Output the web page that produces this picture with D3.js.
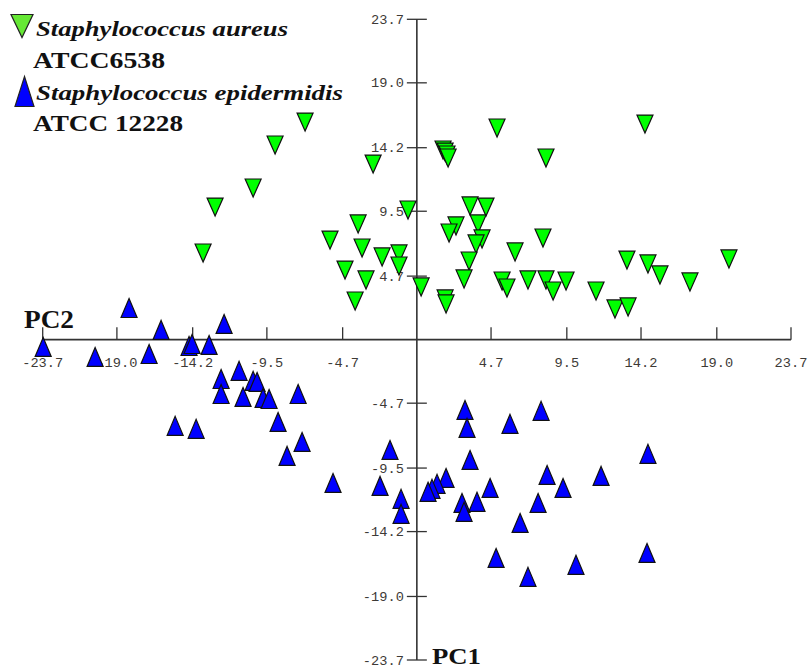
<!DOCTYPE html>
<html>
<head>
<meta charset="utf-8">
<script src="https://cdn.jsdelivr.net/npm/d3@7"></script>
<style>
  html, body { margin: 0; padding: 0; background: #fff; }
  svg { display: block; }
</style>
</head>
<body>
<svg id="chart" width="809" height="668"></svg>
<script>
// PCA score plot: PC1 (vertical) vs PC2 (horizontal)
const tickValues = [-23.7, -19.0, -14.2, -9.5, -4.7, 4.7, 9.5, 14.2, 19.0, 23.7];
const tickLabels = ["-23.7", "-19.0", "-14.2", "-9.5", "-4.7", "4.7", "9.5", "14.2", "19.0", "23.7"];

const seriesNames = ["Staphylococcus aureus", "Staphylococcus epidermidis"];
const seriesStrains = ["ATCC6538", "ATCC 12228"];

// S. aureus ATCC6538 scores
const aureusX = [-7.08, -8.98, -2.77, -10.37, -12.78, -0.56, -3.72, -5.50, -13.54, -3.47,
  -2.20, -1.13, -1.13, -4.55, -3.22, -3.91, 0.27, 5.08, 1.66, 1.79,
  1.91, 1.98, 8.18, 3.37, 4.38, 2.48, 2.04, 3.88, 4.13, 3.75,
  3.31, 2.99, 6.22, 7.99, 5.40, 5.71, 7.04, 8.18, 8.63, 9.45,
  11.35, 1.79, 1.85, 14.45, 13.31, 14.64, 15.40, 17.30, 19.77, 12.55, 13.38];
const aureusY = [16.10, 14.40, 12.99, 11.22, 9.81, 9.59, 8.56, 7.37, 6.41, 6.78,
  6.12, 6.34, 5.45, 5.15, 4.42, 2.86, 3.90, 15.66, 14.03, 13.88,
  13.66, 13.44, 13.44, 9.89, 9.81, 8.41, 7.89, 8.56, 7.45, 7.08,
  5.82, 4.49, 6.49, 7.52, 4.34, 3.82, 4.42, 4.42, 3.60, 4.34,
  3.60, 3.01, 2.64, 15.95, 5.89, 5.60, 4.79, 4.27, 5.97, 2.27, 2.42];

// S. epidermidis ATCC 12228 scores
const epiX = [-18.23, -16.20, -12.21, -23.67, -20.38, -16.96, -14.43, -14.24, -13.16, -12.40,
  -12.40, -11.26, -10.37, -10.12, -11.01, -9.74, -9.36, -7.52, -8.79, -15.31,
  -13.98, -7.27, -8.22, -5.31, -1.70, -2.33, -1.00, -1.00, 1.85, 1.28,
  0.96, 0.71, 3.05, 3.18, 3.37, 5.90, 2.86, 2.99, 3.81, 4.64,
  5.02, 7.87, 14.64, 8.25, 9.26, 11.67, 7.68, 6.54, 7.04, 10.08, 14.58];
const epiY = [2.34, 0.72, 1.16, -0.54, -1.28, -1.06, -0.47, -0.32, -0.39, -2.91,
  -4.02, -2.31, -3.05, -3.13, -4.24, -4.31, -4.39, -4.02, -6.09, -6.38,
  -6.60, -7.57, -8.60, -10.60, -8.16, -10.82, -11.78, -12.89, -10.23, -10.67,
  -11.04, -11.26, -5.20, -6.53, -8.90, -6.23, -12.08, -12.74, -12.00, -10.97,
  -16.15, -5.27, -8.45, -10.01, -10.97, -10.08, -12.08, -13.56, -17.55, -16.66, -15.78];

const svg = d3.select("#chart");

const x = d3.scaleLinear().domain([-23.7, 23.7]).range([42.7, 791]);
const y = d3.scaleLinear().domain([-23.7, 23.7]).range([660, 19.3]);

const axisColor = "#333";
const labelColor = "#3d3a36";
const monoFont = "'Liberation Mono', 'DejaVu Sans Mono', monospace";
const serif = "'Liberation Serif', 'Times New Roman', serif";

// horizontal axis (PC2)
const gx = svg.append("g").attr("transform", `translate(0,${y(0)})`);
gx.append("line")
  .attr("x1", x(-23.7)).attr("x2", x(23.7))
  .attr("stroke", axisColor).attr("stroke-width", 1.6);
gx.selectAll("line.tick").data(tickValues).join("line")
  .attr("class", "tick")
  .attr("x1", d => x(d)).attr("x2", d => x(d))
  .attr("y1", -12.5).attr("y2", 0)
  .attr("stroke", axisColor).attr("stroke-width", 1.3);
gx.selectAll("text").data(tickValues).join("text")
  .attr("x", d => x(d)).attr("y", 27)
  .attr("text-anchor", "middle")
  .attr("font-family", monoFont).attr("font-size", 13)
  .attr("fill", labelColor)
  .attr("textLength", (d, i) => tickLabels[i].length * 8.2)
  .attr("lengthAdjust", "spacingAndGlyphs")
  .text((d, i) => tickLabels[i]);

// vertical axis (PC1)
const gy = svg.append("g").attr("transform", `translate(${x(0)},0)`);
gy.append("line")
  .attr("y1", y(23.7)).attr("y2", y(-23.7))
  .attr("stroke", axisColor).attr("stroke-width", 1.6);
gy.selectAll("line.tick").data(tickValues).join("line")
  .attr("class", "tick")
  .attr("y1", d => y(d)).attr("y2", d => y(d))
  .attr("x1", -10).attr("x2", 10)
  .attr("stroke", axisColor).attr("stroke-width", 1.3);
gy.selectAll("text").data(tickValues).join("text")
  .attr("x", -13).attr("y", d => y(d) + 4.5)
  .attr("text-anchor", "end")
  .attr("font-family", monoFont).attr("font-size", 13)
  .attr("fill", labelColor)
  .attr("textLength", (d, i) => tickLabels[i].length * 8.2)
  .attr("lengthAdjust", "spacingAndGlyphs")
  .text((d, i) => tickLabels[i]);

// axis names
svg.append("text")
  .attr("x", 24).attr("y", 328)
  .attr("font-family", serif).attr("font-weight", "bold").attr("font-size", 25)
  .attr("fill", "#111")
  .attr("textLength", 50).attr("lengthAdjust", "spacingAndGlyphs")
  .text("PC2");
svg.append("text")
  .attr("x", 432).attr("y", 664)
  .attr("font-family", serif).attr("font-weight", "bold").attr("font-size", 23)
  .attr("fill", "#111")
  .attr("textLength", 49).attr("lengthAdjust", "spacingAndGlyphs")
  .text("PC1");

// marker shapes centred on their bounding box
const downTri = (w, h) => `M${-w / 2},${-h / 2}L${w / 2},${-h / 2}L0,${h / 2}Z`;
const upTri = (w, h) => `M0,${-h / 2}L${w / 2},${h / 2}L${-w / 2},${h / 2}Z`;

const aureus = aureusX.map((v, i) => ({ x: v, y: aureusY[i] }));
const epi = epiX.map((v, i) => ({ x: v, y: epiY[i] }));

svg.append("g").selectAll("path").data(epi).join("path")
  .attr("d", upTri(16, 19))
  .attr("transform", d => `translate(${x(d.x)},${y(d.y)})`)
  .attr("fill", "#0000ff").attr("stroke", "#111").attr("stroke-width", 1.2)
  .attr("stroke-linejoin", "miter");

svg.append("g").selectAll("path").data(aureus).join("path")
  .attr("d", downTri(16, 18))
  .attr("transform", d => `translate(${x(d.x)},${y(d.y)})`)
  .attr("fill", "#00ff00").attr("stroke", "#111").attr("stroke-width", 1.2)
  .attr("stroke-linejoin", "miter");

// legend
const legend = svg.append("g");
legend.append("path")
  .attr("d", downTri(22, 23))
  .attr("transform", "translate(22,26)")
  .attr("fill", "#66e835").attr("stroke", "#222").attr("stroke-width", 1.2);
legend.append("path")
  .attr("d", upTri(19, 30))
  .attr("transform", "translate(24.5,91.5)")
  .attr("fill", "#0000ff").attr("stroke", "#222").attr("stroke-width", 1.2);

const nameY = [35.5, 100];
const strainY = [68.3, 130.5];
const nameLen = [252, 307];
const strainLen = [132, 150];
seriesNames.forEach((n, i) => {
  legend.append("text")
    .attr("x", 36).attr("y", nameY[i])
    .attr("font-family", serif).attr("font-style", "italic").attr("font-weight", "bold")
    .attr("font-size", 22).attr("fill", "#111")
    .attr("textLength", nameLen[i]).attr("lengthAdjust", "spacingAndGlyphs")
    .text(n);
  legend.append("text")
    .attr("x", 33).attr("y", strainY[i])
    .attr("font-family", serif).attr("font-weight", "bold")
    .attr("font-size", 23).attr("fill", "#111")
    .attr("textLength", strainLen[i]).attr("lengthAdjust", "spacingAndGlyphs")
    .text(seriesStrains[i]);
});
</script>
</body>
</html>
